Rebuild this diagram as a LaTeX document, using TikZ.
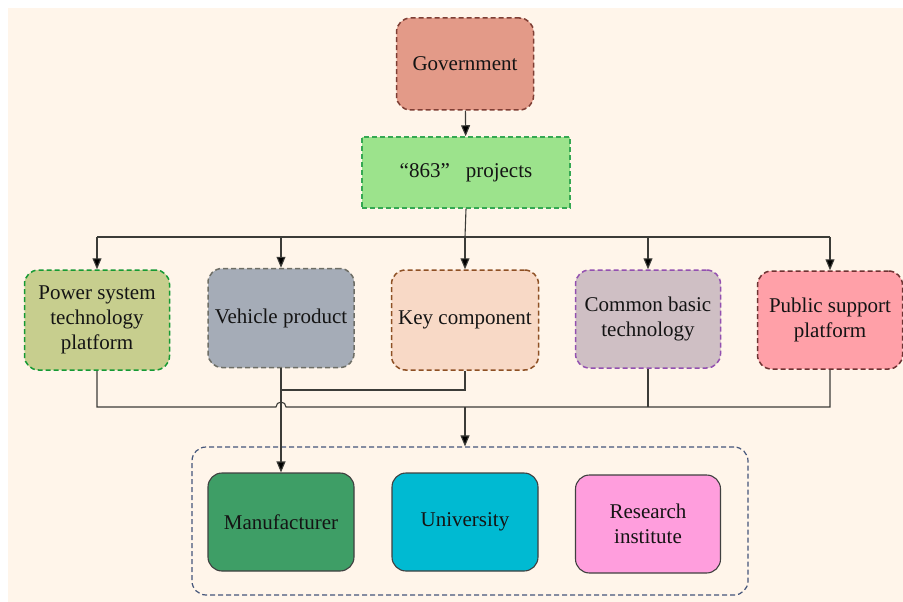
\documentclass[tikz,border=0pt]{standalone}
\usepackage{fontspec}
\setmainfont{Liberation Serif}
\usetikzlibrary{arrows.meta}

\definecolor{paper}{HTML}{FFF5EA}
\definecolor{govfill}{HTML}{E39A88}
\definecolor{govline}{HTML}{7E3E34}
\definecolor{projfill}{HTML}{9CE38C}
\definecolor{projline}{HTML}{35A852}
\definecolor{powfill}{HTML}{C7CE8E}
\definecolor{powline}{HTML}{169A34}
\definecolor{vehfill}{HTML}{A5ACB7}
\definecolor{vehline}{HTML}{6E6E66}
\definecolor{keyfill}{HTML}{F8D9C6}
\definecolor{keyline}{HTML}{8E5024}
\definecolor{comfill}{HTML}{CFBFC4}
\definecolor{comline}{HTML}{9350B0}
\definecolor{pubfill}{HTML}{FFA0A8}
\definecolor{publine}{HTML}{6E3232}
\definecolor{grpline}{HTML}{44557A}
\definecolor{manfill}{HTML}{3E9E66}
\definecolor{unifill}{HTML}{00BAD2}
\definecolor{resfill}{HTML}{FF9EDD}
\definecolor{wire}{HTML}{3C3C38}

\tikzset{
  box/.style={draw, rounded corners=14pt, align=center, inner sep=2pt,
    font=\fontsize{21}{25}\selectfont, text=black!92},
  dbox/.style={box, dashed, dash pattern=on 5pt off 3pt, line width=1.5pt},
  sbox/.style={box, draw=black!75, line width=1.1pt},
  wireline/.style={draw=wire, line width=1.1pt},
  arr/.style={wireline, -{Triangle[length=11pt,width=9pt,fill=black]}},
}

\begin{document}
\begin{tikzpicture}[x=1pt,y=-1pt]
  % page and paper background
  \useasboundingbox (0,0) rectangle (903,602);
  \fill[white] (0,0) rectangle (903,602);
  \fill[paper] (8,8) rectangle (903,602);

  % top of the hierarchy
  \node[dbox, draw=govline, fill=govfill, minimum width=137pt, minimum height=92pt]
    (gov) at (465,64) {Government};
  \node[dbox, rounded corners=0pt, draw=projline, fill=projfill,
        minimum width=208pt, minimum height=71pt]
    (proj) at (466,172.5) {“863”\hspace{16pt}projects};

  % project areas
  \node[dbox, draw=powline, fill=powfill, minimum width=145pt, minimum height=100pt]
    (pow) at (97,320) {Power system\\technology\\platform};
  \node[dbox, draw=vehline, fill=vehfill, minimum width=146pt, minimum height=99pt]
    (veh) at (281,318) {Vehicle product};
  \node[dbox, draw=keyline, fill=keyfill, minimum width=147pt, minimum height=100pt]
    (key) at (465,320) {Key component};
  \node[dbox, draw=comline, fill=comfill, minimum width=145pt, minimum height=98pt]
    (com) at (648,319) {Common basic\\technology};
  \node[dbox, draw=publine, fill=pubfill, minimum width=145pt, minimum height=98pt]
    (pub) at (830,320) {Public support\\platform};

  % performers
  \node[dbox, fill=none, draw=grpline, line width=1.2pt, minimum width=556pt,
        minimum height=148pt] (grp) at (470,521) {};
  \node[sbox, fill=manfill, minimum width=146pt, minimum height=98pt]
    (man) at (281,522) {Manufacturer};
  \node[sbox, fill=unifill, minimum width=146pt, minimum height=98pt]
    (uni) at (465,522) {University};
  \node[sbox, fill=resfill, minimum width=145pt, minimum height=98pt]
    (res) at (648,524) {Research\\institute};

  % top-down distribution
  \coordinate (bus) at (465,237);
  \draw[arr] (gov) -- (proj);
  \draw[wireline] (proj.south) -- (bus);
  \draw[wireline] (bus -| pow) -- (bus -| pub);
  \foreach \n in {pow,veh,key,com,pub}
    \draw[arr] (bus -| \n) -- (\n.north);

  % vehicle product and key component feed the manufacturer
  \coordinate (vk) at (281,390);
  \draw[wireline] (vk) -| (key.south);
  \draw[arr] (veh.south) -- (man.north);

  % collecting line with a hop over the vertical wire
  \coordinate (hopL) at (276,407);
  \coordinate (hopR) at (286,407);
  \draw[wireline] (pow.south) |- (hopL)
    arc[start angle=180, end angle=0, radius=5pt]
    -- (hopR -| pub) -- (pub.south);
  \draw[wireline] (com.south) -- (hopR -| com);
  \draw[arr] (hopR -| key) -- (key |- grp.north);
\end{tikzpicture}
\end{document}
